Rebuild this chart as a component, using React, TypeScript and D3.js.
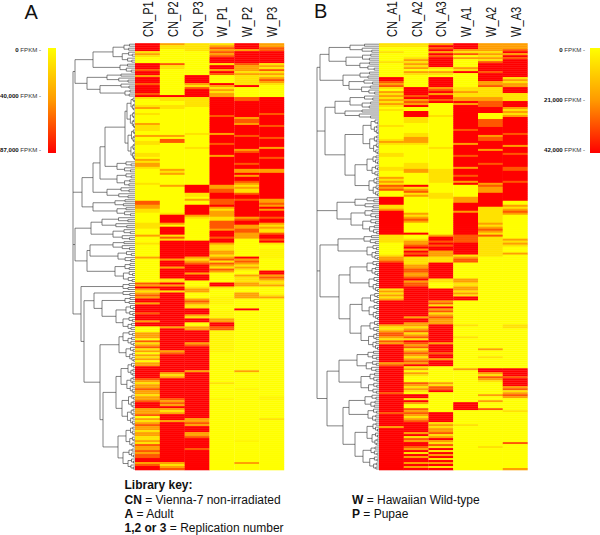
import React from "react";
import * as d3 from "d3";

type Run = [number, number];
type Tree = [number, ...(Tree | number)[]];

const ROWS = 214;
const COLS_A = ["CN_P1", "CN_P2", "CN_P3", "W_P1", "W_P2", "W_P3"];
const COLS_B = ["CN_A1", "CN_A2", "CN_A3", "W_A1", "W_A2", "W_A3"];
const TICKS_A = [[0, "0"], [40000, "40,000"], [87000, "87,000"]] as [number, string][];
const TICKS_B = [[0, "0"], [21000, "21,000"], [42000, "42,000"]] as [number, string][];

// FPKM levels, in thousands, panel A
const Y = 0, F = 4, L = 12, O = 40, D = 62, R = 87;
// each run is [row where the run ends, FPKM in thousands]
const CN_P1: Run[] = [[4,R],[5,L],[6,O],[7,L],[10,Y],[13,R],[14,D],[16,R],[17,O],[20,R],[21,D],[25,R],[26,D],[27,R],[28,L],[31,Y],[32,L],[33,O],[35,Y],[36,L],[40,Y],[41,O],[44,L],[46,Y],[47,O],[49,Y],[51,L],[55,Y],[57,L],[58,Y],[59,O],[60,L],[62,O],[63,L],[70,Y],[71,L],[79,Y],[81,D],[83,O],[85,L],[90,Y],[93,L],[96,Y],[97,O],[100,Y],[101,L],[107,Y],[108,O],[120,Y],[121,D],[122,O],[123,R],[124,O],[125,L],[126,O],[127,D],[128,O],[130,R],[131,O],[135,R],[136,D],[139,R],[140,O],[142,R],[145,Y],[148,O],[149,Y],[150,D],[151,L],[152,O],[153,D],[154,L],[155,O],[156,Y],[157,O],[158,L],[159,O],[160,Y],[162,O],[168,R],[169,D],[170,O],[171,L],[173,O],[174,D],[176,O],[177,L],[179,O],[180,D],[183,R],[186,O],[187,D],[188,Y],[189,O],[190,L],[191,O],[192,D],[194,O],[195,L],[197,O],[199,L],[200,O],[201,L],[202,D],[204,O],[205,D],[206,O],[208,D],[210,R],[211,O],[212,D],[214,R]];
const CN_P2: Run[] = [[1,O],[3,L],[10,Y],[11,D],[13,L],[26,Y],[27,R],[29,L],[31,Y],[33,L],[46,Y],[47,O],[48,Y],[50,D],[63,Y],[64,O],[65,L],[66,O],[71,Y],[72,O],[85,Y],[86,L],[90,R],[91,O],[92,Y],[96,R],[97,L],[98,D],[99,L],[100,R],[108,R],[109,O],[112,R],[113,O],[118,R],[120,L],[121,R],[122,O],[124,R],[125,L],[142,R],[143,O],[154,R],[155,O],[156,D],[165,R],[166,O],[167,L],[168,O],[178,R],[179,D],[180,O],[181,D],[182,O],[183,R],[184,O],[185,L],[186,O],[189,R],[190,O],[210,R],[211,O],[212,L],[213,O],[214,D]];
const CN_P3: Run[] = [[4,L],[16,Y],[20,R],[21,O],[22,L],[23,D],[27,R],[32,L],[45,Y],[46,L],[52,Y],[53,L],[71,Y],[75,R],[77,L],[78,Y],[79,O],[81,Y],[86,R],[87,O],[88,L],[99,Y],[107,R],[108,O],[109,L],[110,O],[111,D],[115,R],[116,O],[119,R],[122,Y],[123,L],[125,O],[128,Y],[129,O],[130,D],[131,O],[133,L],[136,R],[137,O],[138,L],[140,R],[142,Y],[144,O],[150,R],[151,O],[152,D],[164,R],[165,O],[188,R],[190,O],[191,D],[192,O],[195,R],[197,O],[198,D],[203,R],[204,D],[214,R]];
const W_P1: Run[] = [[1,L],[2,O],[3,D],[4,O],[5,D],[6,O],[7,D],[10,R],[11,L],[13,R],[14,O],[15,R],[16,D],[20,Y],[21,R],[22,O],[23,L],[24,O],[25,L],[27,O],[36,R],[37,D],[45,R],[46,O],[50,R],[51,D],[56,R],[57,O],[71,R],[73,O],[75,D],[78,R],[81,D],[82,R],[83,O],[84,L],[87,O],[89,L],[93,D],[94,O],[97,R],[98,D],[100,R],[101,O],[104,L],[106,O],[107,L],[108,O],[109,D],[110,L],[111,D],[112,O],[113,L],[114,D],[115,O],[120,Y],[122,R],[123,L],[127,Y],[131,F],[134,Y],[138,F],[140,O],[142,R],[144,D],[155,F],[156,Y],[170,Y],[171,L],[178,Y],[179,F],[214,Y]];
const W_P2: Run[] = [[3,R],[4,O],[10,R],[11,D],[14,O],[15,L],[16,O],[21,L],[22,R],[27,Y],[29,D],[37,R],[38,O],[40,D],[41,O],[46,R],[47,D],[53,R],[54,O],[55,D],[60,R],[61,D],[63,R],[65,O],[66,R],[67,O],[69,R],[70,D],[71,O],[72,L],[73,O],[75,L],[76,D],[78,R],[79,D],[87,R],[88,O],[89,D],[91,R],[93,O],[95,D],[98,O],[107,Y],[108,R],[109,O],[110,D],[111,O],[112,L],[113,O],[114,L],[116,Y],[117,O],[120,L],[122,O],[125,Y],[128,O],[133,Y],[134,R],[164,Y],[165,O],[173,Y],[174,F],[199,Y],[200,F],[210,Y],[211,O],[214,Y]];
const W_P3: Run[] = [[2,O],[4,D],[10,R],[11,L],[12,O],[13,L],[14,D],[15,L],[16,O],[17,L],[18,O],[19,D],[20,O],[21,L],[27,Y],[35,R],[36,D],[41,R],[42,D],[47,R],[48,D],[52,R],[53,O],[57,R],[58,D],[63,R],[65,O],[78,R],[80,O],[81,D],[82,O],[83,R],[84,O],[87,R],[88,D],[90,R],[91,O],[92,L],[93,O],[95,L],[96,D],[98,R],[99,D],[100,R],[101,L],[103,Y],[108,F],[114,Y],[116,R],[117,O],[118,D],[119,O],[121,L],[122,O],[126,Y],[127,L],[128,O],[177,Y],[179,F],[188,Y],[189,L],[214,Y]];

// FPKM levels, in thousands, panel B
const y = 0, l = 6, o = 20, d = 30, r = 42;
const CN_A1: Run[] = [[2,l],[4,y],[5,l],[9,y],[10,l],[17,y],[19,r],[20,d],[21,o],[22,d],[23,l],[24,y],[25,o],[26,l],[27,o],[28,l],[29,o],[30,l],[31,o],[32,l],[33,y],[34,l],[41,y],[42,l],[48,y],[49,l],[50,o],[51,l],[55,y],[57,l],[62,y],[64,l],[67,y],[68,o],[69,l],[70,o],[71,l],[72,d],[73,o],[74,d],[77,y],[81,r],[83,l],[84,o],[96,r],[100,l],[106,y],[107,l],[109,o],[110,d],[123,r],[124,l],[125,o],[126,l],[127,o],[128,l],[129,o],[141,r],[142,o],[144,l],[145,o],[147,d],[148,o],[149,l],[150,d],[151,o],[160,r],[161,o],[162,d],[175,r],[176,d],[185,r],[186,d],[192,r],[193,o],[214,r]];
const CN_A2: Run[] = [[2,l],[7,y],[8,l],[9,o],[10,l],[11,o],[12,l],[13,o],[14,y],[15,o],[16,l],[22,y],[26,r],[27,d],[28,r],[29,o],[30,d],[31,o],[32,r],[34,y],[37,r],[40,l],[45,y],[47,l],[50,o],[51,l],[60,y],[63,l],[65,o],[71,y],[72,r],[73,l],[74,o],[75,d],[76,l],[77,o],[85,y],[86,o],[87,l],[88,o],[89,d],[90,o],[95,y],[96,r],[98,y],[99,l],[101,o],[102,d],[103,r],[104,o],[105,r],[106,d],[107,r],[111,l],[113,o],[115,d],[117,o],[118,d],[119,r],[120,o],[122,d],[137,r],[138,o],[140,r],[142,o],[143,l],[144,o],[145,d],[146,l],[147,o],[148,d],[149,l],[150,r],[151,d],[152,o],[153,d],[154,l],[155,o],[156,d],[157,o],[158,l],[159,o],[160,d],[161,o],[162,r],[163,l],[164,o],[165,y],[166,o],[167,l],[170,y],[171,d],[172,o],[173,l],[174,o],[175,l],[176,y],[178,r],[179,l],[180,r],[181,o],[183,y],[184,d],[185,o],[186,d],[187,o],[188,l],[189,o],[190,d],[195,r],[196,o],[197,r],[198,l],[199,d],[200,o],[202,r],[203,d],[204,o],[205,r],[206,l],[207,r],[208,o],[210,r],[211,o],[212,r],[213,o],[214,r]];
const CN_A3: Run[] = [[1,o],[2,r],[3,d],[4,r],[5,o],[6,r],[7,d],[12,r],[13,l],[14,y],[15,o],[16,l],[17,y],[22,r],[23,o],[24,d],[25,r],[26,o],[28,r],[29,d],[30,r],[36,y],[37,l],[52,y],[53,l],[63,y],[70,l],[75,y],[78,l],[96,y],[97,o],[99,r],[100,d],[101,r],[102,d],[104,r],[107,o],[110,l],[118,r],[120,l],[123,y],[129,r],[130,o],[131,d],[132,l],[133,r],[134,o],[135,d],[136,l],[137,o],[138,d],[141,o],[150,r],[151,o],[155,r],[156,d],[158,r],[159,o],[162,r],[170,y],[171,o],[172,l],[174,d],[175,r],[185,y],[190,r],[191,l],[192,o],[193,l],[195,o],[196,d],[197,l],[198,o],[199,r],[200,o],[201,l],[202,d],[203,l],[204,r],[205,l],[206,r],[207,o],[208,r],[209,l],[210,r],[211,o],[212,r],[213,l],[214,r]];
const W_A1: Run[] = [[3,r],[4,o],[5,l],[6,d],[7,y],[8,o],[12,y],[13,o],[14,l],[15,r],[22,y],[24,l],[25,o],[27,l],[29,o],[30,r],[31,o],[43,r],[44,d],[50,r],[51,o],[56,r],[57,d],[62,r],[63,o],[66,r],[67,d],[69,r],[70,o],[71,r],[77,y],[80,o],[84,r],[85,o],[96,r],[100,d],[106,r],[107,l],[108,o],[110,d],[118,y],[120,o],[122,l],[124,o],[125,l],[126,o],[127,l],[129,r],[141,y],[142,l],[147,y],[148,l],[163,y],[164,o],[180,y],[184,r],[191,y],[192,l],[214,y]];
const W_A2: Run[] = [[4,o],[5,l],[6,o],[7,l],[8,o],[9,l],[10,d],[14,r],[15,d],[19,r],[21,o],[22,d],[27,l],[29,o],[32,d],[35,r],[38,y],[42,d],[46,r],[47,o],[49,d],[53,r],[54,o],[60,r],[61,d],[70,r],[71,o],[72,d],[75,o],[82,r],[90,l],[91,o],[92,l],[93,o],[94,d],[95,o],[96,l],[97,d],[107,l],[153,y],[154,o],[157,y],[158,l],[163,y],[165,r],[166,o],[167,l],[168,d],[169,o],[170,l],[176,y],[177,o],[179,y],[180,o],[183,y],[184,d],[202,y],[203,l],[214,y]];
const W_A3: Run[] = [[3,o],[4,d],[5,r],[6,o],[7,r],[8,d],[17,r],[18,l],[19,o],[20,l],[22,o],[25,r],[29,l],[32,r],[33,o],[34,l],[35,o],[36,l],[37,o],[45,r],[46,d],[51,r],[52,o],[55,r],[56,d],[62,r],[64,d],[69,r],[70,d],[79,r],[81,y],[82,o],[83,l],[84,o],[85,d],[86,o],[98,y],[99,o],[100,l],[101,o],[102,l],[105,y],[106,o],[141,y],[143,l],[163,y],[167,r],[168,d],[172,r],[173,o],[174,d],[175,l],[176,o],[177,d],[178,o],[184,y],[185,l],[200,y],[201,d],[213,y],[214,o]];

const SERIES_A = [CN_P1, CN_P2, CN_P3, W_P1, W_P2, W_P3];
const SERIES_B = [CN_A1, CN_A2, CN_A3, W_A1, W_A2, W_A3];

// dendrograms: [distance, ...children]; a bare number is a tight bundle of that many rows
const TREE_A: Tree = [62,
  [60, [42, [22, 10], [15, 5]], [48, [28, 5], [35, [14, 3], [10, 4]]]],
  [53,
    [42, [35, [30, [10, [8, 16], [7, 16]], [18, 6]], [18, 7]], [28, 6]],
    [42, [20, 4], [18, 5]]],
  [60,
    [44, [33, 6], [22, 6]],
    [48, [45, [22, 5], [17, 6]], [20, 10]]],
  [54,
    [12, 4],
    [51,
      [41, [12, 3], [33, [10, 4], [19, [9, 6], [12, 7]]]],
      [35,
        [16, [12, 8], [9, 8]],
        [32, [19, [14, 16], [13, 16]], [17, [9, 11], [12, 11]]]]]]];

const TREE_B: Tree = [62,
  [59, [50, [29, 5], [33, 9]], [36, [19, 4], [30, 8]]],
  [54,
    [44, [29, 7], [34, 5]],
    [34, [16, 18], [24, [12, 11], [10, 10]]]],
  [42, [24, 6], [28, 13]],
  [59,
    [41, [15, 5], [12, 8]],
    [40, [29, [12, 8], [10, 8]], [29, [17, 14], [18, 15]]]],
  [52,
    [40, [22, 11], [18, 11]],
    [36, [30, [14, 7], [11, 7]], [24, [12, 12], [16, 12]]]]];

type N = { dist: number; children?: N[] };
const fan = (n: number, h: number): N => {
  if (n <= 1) return { dist: 0 };
  const a = Math.max(1, Math.round(n * 0.42));
  const floor = n <= 3 ? 0.35 : 0.5;
  return { dist: h, children: [fan(a, h * floor), fan(n - a, h * (floor + 0.08))] };
};
const toN = (t: Tree): N => {
  const [dist, ...kids] = t;
  if (kids.length === 1 && typeof kids[0] === "number") return fan(kids[0] as number, dist);
  return { dist, children: (kids as Tree[]).map(toN) };
};
const expand = (runs: Run[]) => {
  const out: number[] = [];
  let i = 0;
  for (const [end, v] of runs) while (i < end && i < ROWS) out[i++] = v;
  while (i < ROWS) out[i++] = 0;
  return out;
};

function Dendro({ tree, x0, y: yS }: { tree: Tree; x0: number; y: d3.ScaleBand<number> }) {
  const root = d3.hierarchy(toN(tree));
  const x = d3.scaleLinear().domain([0, 62]).range([x0, x0 - 62]);
  const ys = new Map<any, number>();
  root.leaves().forEach((n, i) => ys.set(n, yS(i)! + yS.bandwidth() / 2));
  root.eachAfter((n) => {
    if (n.children) ys.set(n, (ys.get(n.children[0])! + ys.get(n.children[n.children.length - 1])!) / 2);
  });
  const p = d3.path();
  root.each((n) => {
    const nx = x(n.data.dist), ny = ys.get(n)!;
    if (n.parent) { p.moveTo(x(n.parent.data.dist), ny); p.lineTo(nx, ny); }
    if (n.children) {
      p.moveTo(nx, ys.get(n.children[0])!);
      p.lineTo(nx, ys.get(n.children[n.children.length - 1])!);
    }
  });
  return <path d={p.toString()} fill="none" stroke="#3f3f3f" strokeWidth={0.65} />;
}

function Heat({ cols, series, tree, x0, x1, max, yS }: any) {
  const x = d3.scaleBand<string>().domain(cols).range([x0, x1]);
  const color = d3.scaleLinear<string>().domain([0, max / 2, max]).range(["#ffff00", "#ff9900", "#ff0000"]);
  return (
    <g>
      <Dendro tree={tree} x0={x0} y={yS} />
      {cols.map((c: string, i: number) => (
        <g key={c}>
          {expand(series[i]).map((v, row) => (
            <rect key={row} x={x(c)} y={yS(row)} width={x.bandwidth() + 0.2} height={yS.bandwidth() + 0.3} fill={color(v)} />
          ))}
          <text transform={`translate(${x(c)! + x.bandwidth() / 2 + 5.5},37) rotate(-90) scale(0.74,1)`} fontSize={15} fill="#111">{c}</text>
        </g>
      ))}
    </g>
  );
}

function ColorBar({ id, bx, bw, tx, ticks }: { id: string; bx: number; bw: number; tx: number; ticks: [number, string][] }) {
  const max = ticks[2][0];
  const s = d3.scaleLinear().domain([0, max]).range([50, 150]);
  return (
    <g>
      <defs>
        <linearGradient id={id} x1="0" y1="0" x2="0" y2="1">
          <stop offset="0" stopColor="#ffff00" />
          <stop offset="0.5" stopColor="#ff9900" />
          <stop offset="1" stopColor="#ff0000" />
        </linearGradient>
      </defs>
      <rect x={bx} y={48} width={bw} height={105} fill={`url(#${id})`} />
      {ticks.map(([v, t]) => (
        <text key={t} x={tx} y={s(v) + 2} textAnchor="end" fontSize={6.1} fill="#333">
          <tspan fontWeight="bold" fill="#111">{t}</tspan> FPKM -
        </text>
      ))}
    </g>
  );
}

export default function App() {
  const yS = d3.scaleBand<number>().domain(d3.range(ROWS)).range([43.2, 470]);
  const bold = (s: string) => <tspan fontWeight="bold">{s}</tspan>;
  return (
    <svg width={600} height={535} style={{ position: "fixed", left: 0, top: 0, background: "#fff" }} fontFamily="'Liberation Sans', Arial, sans-serif">
      <text x={24.5} y={19} fontSize={20} fill="#111">A</text>
      <text x={314} y={18} fontSize={20} fill="#111">B</text>
      <ColorBar id="ga" bx={48} bw={8} tx={41} ticks={TICKS_A} />
      <ColorBar id="gb" bx={590} bw={10} tx={585} ticks={TICKS_B} />
      <Heat cols={COLS_A} series={SERIES_A} tree={TREE_A} x0={135} x1={284} max={87} yS={yS} />
      <Heat cols={COLS_B} series={SERIES_B} tree={TREE_B} x0={379} x1={527.5} max={42} yS={yS} />
      <g fontSize={12} fill="#111">
        <text x={124.5} y={489}>{bold("Library key:")}</text>
        <text x={124.5} y={504}>{bold("CN")} = Vienna-7 non-irradiated</text>
        <text x={124.5} y={518}>{bold("A")} = Adult</text>
        <text x={124.5} y={532}>{bold("1,2 or 3")} = Replication number</text>
        <text x={352} y={504}>{bold("W")} = Hawaiian Wild-type</text>
        <text x={352} y={518}>{bold("P")} = Pupae</text>
      </g>
    </svg>
  );
}
